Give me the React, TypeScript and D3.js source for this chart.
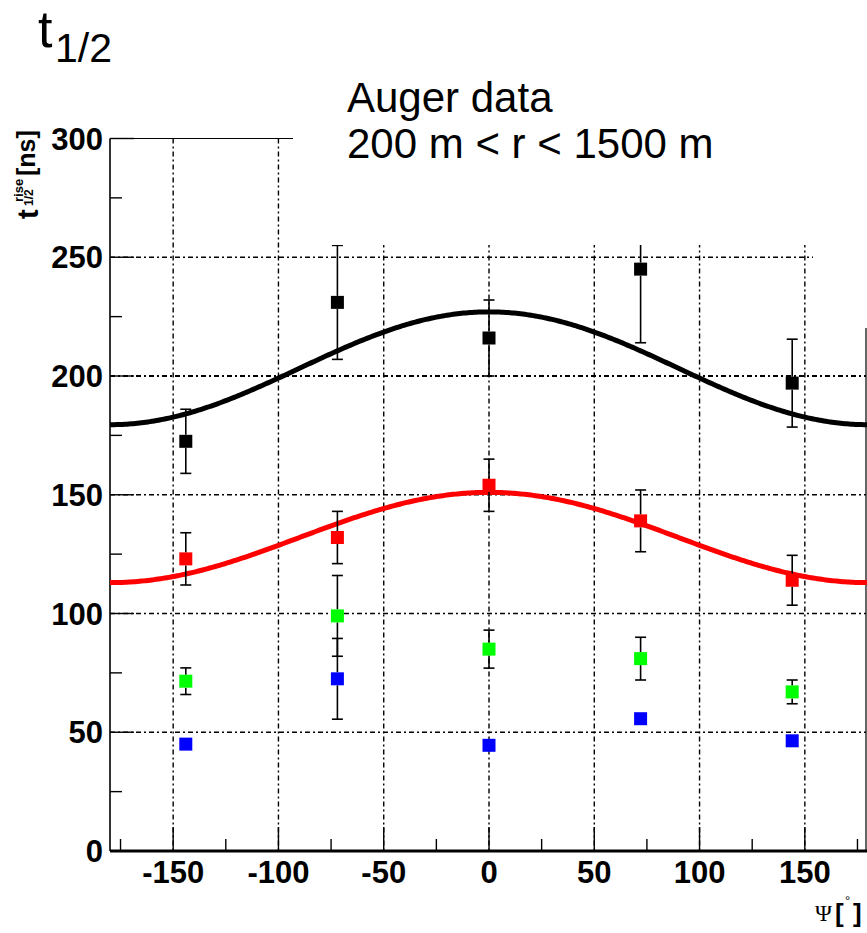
import React from "react";
import * as d3 from "d3";

// ---- data ----
const psi = [-144, -72, 0, 72, 144];
const blackVals = [172.5, 231, 216, 245, 197];
const blackErr = [13.5, 24, 16, 31, 18.5];
const redVals = [123, 132, 154, 139, 114];
const redErr = [11, 11, 11, 13, 10.5];
const greenVals = [71.5, 99, 85, 81, 67];
const greenErr = [5.6, 17, 8, 9, 5];
const blueVals = [45, 72.5, 44.5, 55.7, 46.4];
const blueErr = [1.5, 17, 1.5, 1.5, 1.5];
// fit curves: mean + amplitude * cos(psi)
const blackFit = [203.25, 23.75];
const redFit = [132, 19];

const xTicks = [-150, -100, -50, 0, 50, 100, 150];
const xMinor = [-175, -125, -75, -25, 25, 75, 125, 175];
const yTicks = [0, 50, 100, 150, 200, 250, 300];
const yMinor = [25, 75, 125, 175, 225, 275];
const gridY = [50, 100, 150, 200, 250];

const W = 867;
const H = 933;
const x = d3.scaleLinear().domain([-180, 180]).range([110, 868]);
const y = d3.scaleLinear().domain([0, 300]).range([851, 138.5]);

const FONT = "'Liberation Sans', Arial, Helvetica, sans-serif";

function fitPath(p: number[]) {
  const pts = d3.range(-180, 180.5, 1).map((a) => [a, p[0] + p[1] * Math.cos((a * Math.PI) / 180)] as [number, number]);
  return d3
    .line<[number, number]>()
    .x((d) => x(d[0]))
    .y((d) => y(d[1]))(pts) as string;
}

const SQ = 13;

function Series({ vals, errs, color }: { vals: number[]; errs: number[]; color: string }) {
  return (
    <g>
      {psi.map((p, i) => {
        const cx = x(p);
        const cy = y(vals[i]);
        const top = y(vals[i] + errs[i]);
        const bot = y(vals[i] - errs[i]);
        const half = SQ / 2;
        return (
          <g key={i}>
            {cy - half > top && (
              <>
                <line x1={cx} x2={cx} y1={cy - half} y2={top} stroke="#000" strokeWidth={1.6} />
                <line x1={cx - 5.5} x2={cx + 5.5} y1={top} y2={top} stroke="#000" strokeWidth={1.6} />
              </>
            )}
            {bot > cy + half && (
              <>
                <line x1={cx} x2={cx} y1={cy + half} y2={bot} stroke="#000" strokeWidth={1.6} />
                <line x1={cx - 5.5} x2={cx + 5.5} y1={bot} y2={bot} stroke="#000" strokeWidth={1.6} />
              </>
            )}
          </g>
        );
      })}
      {psi.map((p, i) => (
        <rect key={"s" + i} x={x(p) - SQ / 2} y={y(vals[i]) - SQ / 2} width={SQ} height={SQ} fill={color} />
      ))}
    </g>
  );
}

export default function App() {
  const x0 = x(-180);
  const x1 = 866;
  const yb = y(0);
  const yt = y(300);
  return (
    <svg width={W} height={H} style={{ position: "absolute", left: 0, top: 0, background: "#fff" }}>
      <rect x={0} y={0} width={W} height={H} fill="#fff" />
      {/* grid */}
      {xTicks.map((t) => (
        <line key={"gx" + t} x1={x(t)} x2={x(t)} y1={yt} y2={yb} stroke="#000" strokeWidth={1.4} strokeDasharray="5,3,2,3" />
      ))}
      {gridY.map((t) => (
        <line
          key={"gy" + t}
          x1={x0}
          x2={x1}
          y1={y(t)}
          y2={y(t)}
          stroke="#000"
          strokeWidth={t === 200 ? 2.2 : 1.4}
          strokeDasharray="5,3,2,3"
        />
      ))}
      {/* frame */}
      <line x1={x0} x2={x1} y1={yt} y2={yt} stroke="#000" strokeWidth={1.2} />
      <line x1={x1} x2={x1} y1={yt} y2={yb} stroke="#000" strokeWidth={1.2} />
      <line x1={x0} x2={x0} y1={yt} y2={yb} stroke="#000" strokeWidth={1.6} />
      <line x1={x0} x2={x1 + 2} y1={yb} y2={yb} stroke="#000" strokeWidth={3} />
      {/* ticks */}
      {xTicks.map((t) => (
        <line key={"tx" + t} x1={x(t)} x2={x(t)} y1={yb} y2={yb - 24} stroke="#000" strokeWidth={1.4} />
      ))}
      {xMinor.map((t) => (
        <line key={"mx" + t} x1={x(t)} x2={x(t)} y1={yb} y2={yb - 12} stroke="#000" strokeWidth={1.4} />
      ))}
      {yTicks.map((t) => (
        <line key={"ty" + t} x1={x0} x2={x0 + 24} y1={y(t)} y2={y(t)} stroke="#000" strokeWidth={1.4} />
      ))}
      {yMinor.map((t) => (
        <line key={"my" + t} x1={x0} x2={x0 + 12} y1={y(t)} y2={y(t)} stroke="#000" strokeWidth={1.4} />
      ))}
      {/* fits */}
      <path d={fitPath(blackFit)} fill="none" stroke="#000" strokeWidth={5} />
      <path d={fitPath(redFit)} fill="none" stroke="#ff0000" strokeWidth={5} />
      {/* data */}
      <Series vals={blackVals} errs={blackErr} color="#000" />
      <Series vals={redVals} errs={redErr} color="#ff0000" />
      <Series vals={greenVals} errs={greenErr} color="#00ff00" />
      <Series vals={blueVals} errs={blueErr} color="#0000ff" />
      {/* white box of the annotation */}
      <rect x={293} y={0} width={W - 293} height={245} fill="#fff" />
      <rect x={813} y={0} width={W - 813} height={328} fill="#fff" />
      {/* tick labels */}
      {xTicks.map((t) => (
        <text key={"lx" + t} x={x(t)} y={883} textAnchor="middle" fontFamily={FONT} fontWeight="bold" fontSize={31}>
          {t}
        </text>
      ))}
      {yTicks.map((t) => (
        <text key={"ly" + t} x={103} y={y(t) + 11} textAnchor="end" fontFamily={FONT} fontWeight="bold" fontSize={31}>
          {t}
        </text>
      ))}
      {/* y title */}
      <text transform="translate(38,219) rotate(-90)" fontFamily={FONT} fontWeight="bold" fontSize={29}>t</text>
      <text transform="translate(23,202) rotate(-90)" fontFamily={FONT} fontWeight="bold" fontSize={13}>rise</text>
      <text transform="translate(33,206) rotate(-90)" fontFamily={FONT} fontWeight="bold" fontSize={12}>1/2</text>
      <text transform="translate(35,176) rotate(-90)" fontFamily={FONT} fontWeight="bold" fontSize={25}>[ns]</text>
      {/* x title */}
      <text x={815} y={921} fontFamily="'Liberation Serif', 'DejaVu Serif', serif" fontSize={23}>Ψ</text>
      <text x={835} y={922} fontFamily={FONT} fontWeight="bold" fontSize={26}>[</text>
      <text x={845} y={905} fontFamily={FONT} fontSize={13}>°</text>
      <text x={853} y={922} fontFamily={FONT} fontWeight="bold" fontSize={26}>]</text>
      {/* title */}
      <text x={38} y={47} fontFamily={FONT} fontSize={52}>t</text>
      <text x={55} y={62} fontFamily={FONT} fontSize={41}>1/2</text>
      {/* annotation */}
      <text x={347} y={112} fontFamily={FONT} fontSize={42}>Auger data</text>
      <text x={347} y={158} fontFamily={FONT} fontSize={42}>200 m &lt; r &lt; 1500 m</text>
    </svg>
  );
}
